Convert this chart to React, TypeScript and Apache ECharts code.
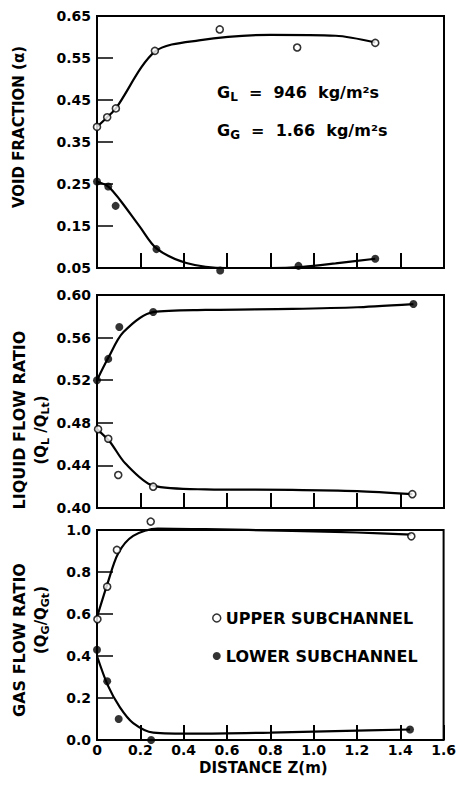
import React, { useEffect, useRef } from "react";
import * as echarts from "echarts";

// ---------- Panel 1: void fraction ----------
const voidUpperZ = [0, 0.047, 0.087, 0.267, 0.566, 0.923, 1.283];
const voidUpperA = [0.386, 0.409, 0.43, 0.567, 0.618, 0.575, 0.586];
const voidLowerZ = [0, 0.052, 0.086, 0.274, 0.568, 0.929, 1.283];
const voidLowerA = [0.256, 0.244, 0.198, 0.095, 0.044, 0.055, 0.072];
const voidUpperFitZ = [0, 0.047, 0.087, 0.267, 0.47, 0.8, 1.1, 1.283];
const voidUpperFitA = [0.386, 0.409, 0.43, 0.565, 0.592, 0.605, 0.603, 0.587];
const voidLowerFitZ = [0, 0.052, 0.106, 0.198, 0.274, 0.412, 0.6, 0.8, 0.95, 1.1, 1.283];
const voidLowerFitA = [0.256, 0.244, 0.212, 0.148, 0.097, 0.062, 0.05, 0.05, 0.053, 0.061, 0.072];

// ---------- Panel 2: liquid flow ratio ----------
const liqUpperZ = [0.005, 0.052, 0.098, 0.259, 1.454];
const liqUpperR = [0.474, 0.465, 0.431, 0.42, 0.413];
const liqLowerZ = [0, 0.052, 0.103, 0.259, 1.459];
const liqLowerR = [0.52, 0.54, 0.57, 0.584, 0.5915];
const liqUpperFitZ = [0, 0.06, 0.13, 0.259, 0.5, 0.9, 1.2, 1.454];
const liqUpperFitR = [0.474, 0.462, 0.442, 0.421, 0.4175, 0.417, 0.4158, 0.413];
const liqLowerFitZ = [0, 0.052, 0.121, 0.259, 0.5, 0.9, 1.2, 1.459];
const liqLowerFitR = [0.52, 0.541, 0.565, 0.584, 0.586, 0.587, 0.5885, 0.5915];

// ---------- Panel 3: gas flow ratio ----------
const gasUpperZ = [0.002, 0.047, 0.092, 0.248, 1.451];
const gasUpperR = [0.575, 0.73, 0.905, 1.04, 0.97];
const gasLowerZ = [0, 0.047, 0.1, 0.25, 1.445];
const gasLowerR = [0.43, 0.28, 0.1, 0.0, 0.05];
const gasUpperFitZ = [0, 0.047, 0.098, 0.167, 0.28, 0.5, 0.9, 1.2, 1.451];
const gasUpperFitR = [0.585, 0.74, 0.889, 0.972, 1.007, 1.004, 0.996, 0.988, 0.978];
const gasLowerFitZ = [0, 0.05, 0.106, 0.167, 0.26, 0.45, 0.8, 1.1, 1.445];
const gasLowerFitR = [0.4, 0.26, 0.155, 0.08, 0.035, 0.03, 0.035, 0.042, 0.05];

const UPPER = "UPPER SUBCHANNEL";
const LOWER = "LOWER SUBCHANNEL";

const FONT = "'DejaVu Sans', sans-serif";

const pair = (xs: number[], ys: number[]) => xs.map((x, i) => [x, ys[i]]);

export default function App() {
  const ref = useRef<HTMLDivElement>(null);
  useEffect(() => {
    if (!ref.current) return;
    const chart = echarts.init(ref.current, undefined, { renderer: "svg" });

    const gridBase = { left: 97, width: 347, show: true, borderColor: "#000", borderWidth: 2, backgroundColor: "transparent" };
    const grids = [
      { ...gridBase, top: 16, height: 252 },
      { ...gridBase, top: 295, height: 213 },
      { ...gridBase, top: 530, height: 210 },
    ];

    const xAxes = [0, 1, 2].map((i) => ({
      type: "value",
      gridIndex: i,
      min: 0,
      max: 1.6,
      interval: 0.2,
      axisLine: { show: false },
      axisTick: { show: true, inside: true, length: 15, lineStyle: { color: "#000", width: 2 } },
      splitLine: { show: false },
      axisLabel: {
        show: i === 2,
        margin: 3,
        color: "#000",
        fontFamily: FONT,
        fontWeight: "bold",
        fontSize: 14,
        formatter: (v: number) => (v === 0 ? "0" : v.toFixed(1)),
      },
      name: i === 2 ? "DISTANCE Z(m)" : "",
      nameLocation: "middle",
      nameGap: 20,
      nameTextStyle: { color: "#000", fontFamily: FONT, fontWeight: "bold", fontSize: 15, padding: [0, 14, 0, 0] },
    }));

    const yCfg = [
      { min: 0.05, max: 0.65, interval: 0.1, dec: 2 },
      { min: 0.4, max: 0.6, interval: 0.04, dec: 2 },
      { min: 0, max: 1.0, interval: 0.2, dec: 1 },
    ];
    const yAxes = yCfg.map((c, i) => ({
      type: "value",
      gridIndex: i,
      min: c.min,
      max: c.max,
      interval: c.interval,
      axisLine: { show: false },
      axisTick: { show: true, inside: true, length: 16, lineStyle: { color: "#000", width: 1.5 } },
      splitLine: { show: false },
      axisLabel: {
        margin: 6,
        color: "#000",
        fontFamily: FONT,
        fontWeight: "bold",
        fontSize: 14,
        formatter: (v: number) => v.toFixed(c.dec),
      },
    }));

    const fit = (i: number, xs: number[], ys: number[], name: string) => ({
      type: "line",
      name,
      xAxisIndex: i,
      yAxisIndex: i,
      data: pair(xs, ys),
      smooth: 0.3,
      showSymbol: false,
      symbol: "none",
      clip: false,
      lineStyle: { color: "#000", width: 2.2 },
      z: 2,
    });
    const pts = (i: number, xs: number[], ys: number[], upper: boolean) => ({
      type: "scatter",
      name: upper ? UPPER : LOWER,
      xAxisIndex: i,
      yAxisIndex: i,
      data: pair(xs, ys),
      symbol: "circle",
      symbolSize: upper ? 7 : 8,
      clip: false,
      itemStyle: upper
        ? { color: "#fff", borderColor: "#000", borderWidth: 1.6 }
        : { color: "#000", borderColor: "#000", borderWidth: 0 },
      z: 3,
    });

    const main = { fontSize: 16, fontWeight: "bold", fontFamily: FONT, color: "#000", lineHeight: 22, verticalAlign: "middle" };
    const sub = { fontSize: 12, fontWeight: "bold", fontFamily: FONT, color: "#000", lineHeight: 12, verticalAlign: "bottom" };
    const tMain = { fontSize: 15, fontWeight: "bold", fontFamily: FONT, color: "#000", lineHeight: 20, verticalAlign: "middle" };
    const tSub = { fontSize: 11, fontWeight: "bold", fontFamily: FONT, color: "#000", lineHeight: 10, verticalAlign: "bottom" };

    const vText = (x: number, y: number, text: string, size: number) => ({
      type: "text",
      x,
      y,
      rotation: Math.PI / 2,
      style: { text, align: "center", verticalAlign: "middle", fill: "#000", font: `bold ${size}px ${FONT}` },
    });
    const vRich = (x: number, y: number, text: string) => ({
      type: "text",
      x,
      y,
      rotation: Math.PI / 2,
      style: { text, align: "center", verticalAlign: "middle", rich: { m: tMain, s: tSub } },
    });

    const option = {
      animation: false,
      backgroundColor: "#fff",
      grid: grids,
      xAxis: xAxes,
      yAxis: yAxes,
      legend: {
        orient: "vertical",
        left: 207,
        top: 603,
        itemWidth: 8,
        itemHeight: 8,
        itemGap: 18,
        selectedMode: false,
        textStyle: { color: "#000", fontFamily: FONT, fontWeight: "bold", fontSize: 16, lineHeight: 20 },
        data: [
          { name: UPPER, icon: "circle", itemStyle: { color: "#fff", borderColor: "#000", borderWidth: 1.5 } },
          { name: LOWER, icon: "circle", itemStyle: { color: "#000" } },
        ],
      },
      graphic: [
        vText(19, 127, "VOID FRACTION (α)", 15),
        vText(19, 420, "LIQUID FLOW RATIO", 16),
        vRich(41, 430, "{m|(Q}{s|L}{m| /Q}{s|Lt}{m|)}"),
        vText(19, 640, "GAS FLOW RATIO", 16),
        vRich(41, 620, "{m|(Q}{s|G}{m|/Q}{s|Gt}{m|)}"),
        {
          type: "text",
          x: 217,
          y: 92,
          style: { text: "{m|G}{s|L}{m|  =  946  kg/m²s}", align: "left", verticalAlign: "middle", rich: { m: main, s: sub } },
        },
        {
          type: "text",
          x: 217,
          y: 130,
          style: { text: "{m|G}{s|G}{m|  =  1.66  kg/m²s}", align: "left", verticalAlign: "middle", rich: { m: main, s: sub } },
        },
      ],
      series: [
        fit(0, voidUpperFitZ, voidUpperFitA, "fit-void-upper"),
        fit(0, voidLowerFitZ, voidLowerFitA, "fit-void-lower"),
        pts(0, voidUpperZ, voidUpperA, true),
        pts(0, voidLowerZ, voidLowerA, false),
        fit(1, liqUpperFitZ, liqUpperFitR, "fit-liq-upper"),
        fit(1, liqLowerFitZ, liqLowerFitR, "fit-liq-lower"),
        pts(1, liqUpperZ, liqUpperR, true),
        pts(1, liqLowerZ, liqLowerR, false),
        fit(2, gasUpperFitZ, gasUpperFitR, "fit-gas-upper"),
        fit(2, gasLowerFitZ, gasLowerFitR, "fit-gas-lower"),
        pts(2, gasUpperZ, gasUpperR, true),
        pts(2, gasLowerZ, gasLowerR, false),
      ],
    };
    chart.setOption(option as any);
    return () => chart.dispose();
  }, []);
  return (
    <div
      ref={ref}
      style={{ position: "absolute", left: 0, top: 0, width: 459, height: 788, background: "#fff" }}
    />
  );
}
